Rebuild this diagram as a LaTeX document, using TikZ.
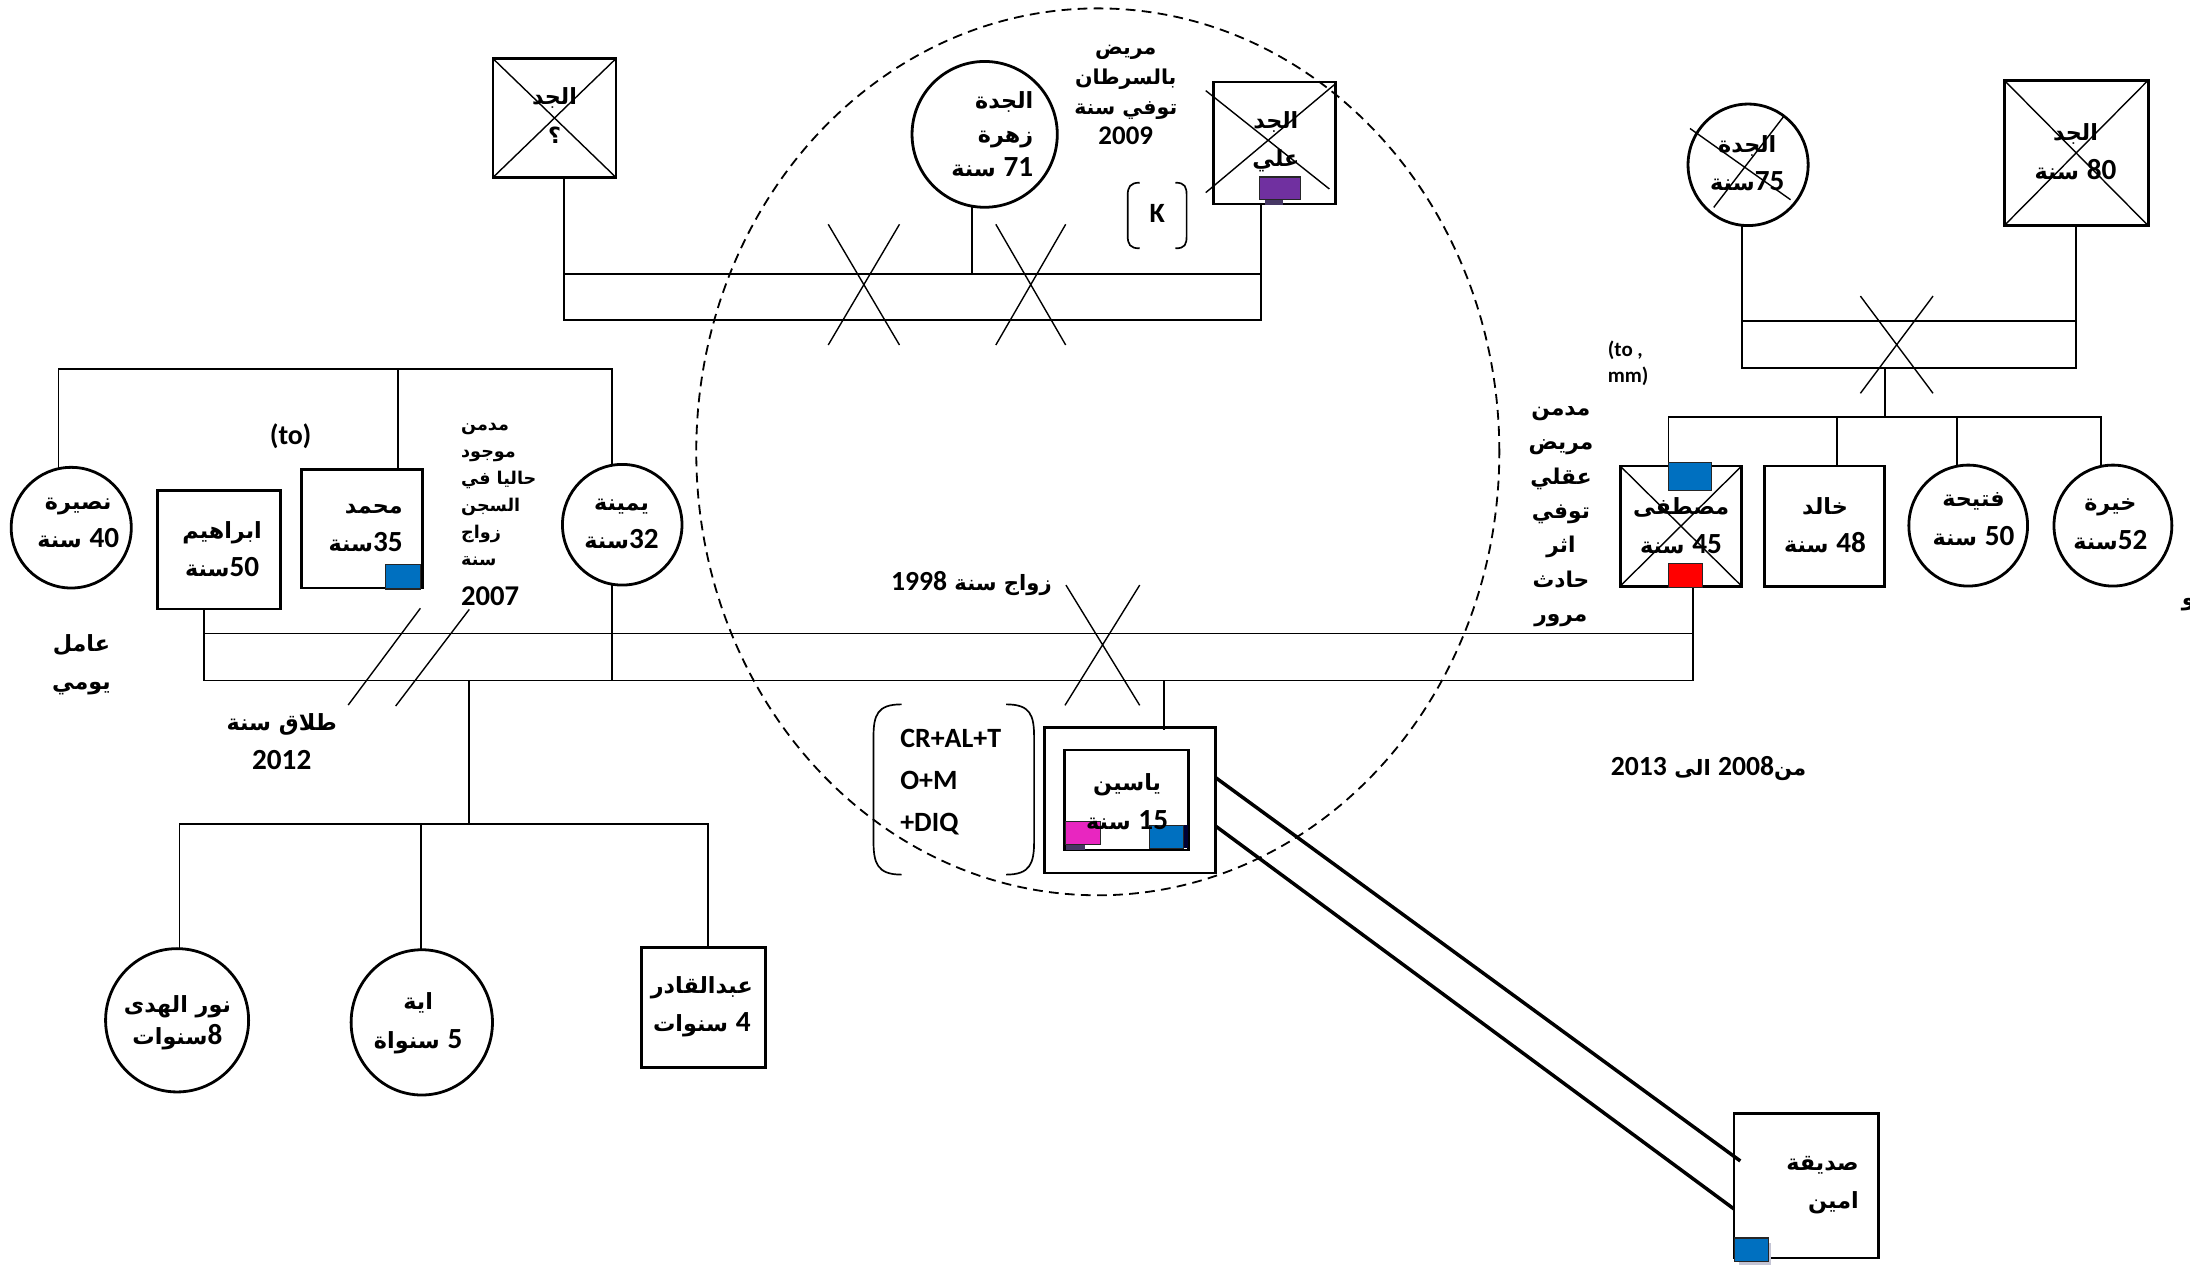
\documentclass[tikz,border=0pt]{standalone}
\usepackage{fontspec}
\setmainfont{Carlito}
\newfontfamily\numf{Carlito}[Scale=1.1]
\newfontfamily\arf{DejaVu Sans}[Script=Arabic, Scale=0.84]
\usetikzlibrary{shapes.geometric}
\TeXXeTstate=1
\newcommand\RR[1]{\beginR#1\endR}
\newcommand\nb[1]{{\numf\bfseries #1}}
\tikzset{
  ln/.style={line width=1.2pt},
  xl/.style={line width=1pt},
  thk/.style={line width=2.5pt},
  box/.style={draw, line width=2pt, rectangle, inner sep=0pt, outer sep=0pt},
  circ/.style={draw, line width=2pt, ellipse, inner sep=0pt, outer sep=0pt},
  mk/.style={draw=black!85, line width=0.8pt},
  txt/.style={inner sep=0pt, align=center, font=\bfseries\arf\fontsize{19}{27.5}\selectfont},
  lat/.style={inner sep=0pt, font=\bfseries\rmfamily\fontsize{20}{30}\selectfont},
}
\definecolor{mblue}{RGB}{0,112,192}
\definecolor{mpurple}{RGB}{112,48,160}
\definecolor{mpink}{RGB}{232,38,192}
\definecolor{mred}{RGB}{255,0,0}
\definecolor{dpurple}{RGB}{70,55,100}
\begin{document}
\begin{tikzpicture}[x=1pt,y=-1pt]
\fill[white] (0,0) rectangle (1568,908);
\useasboundingbox (0,0) rectangle (1568,908);

% focus dashed ellipse
\node[draw, ellipse, inner sep=0pt, line width=1.3pt, dash pattern=on 7pt off 4.5pt,
      minimum width=575pt, minimum height=635pt] (focus) at (786,323.5) {};

% ---------- persons ----------
\node[box, minimum width=88pt, minimum height=85pt] (gfA) at (397,84.5) {};
\node[circ, minimum width=104pt, minimum height=104.4pt] (zahra) at (705,96.2) {};
\node[box, minimum width=87pt, minimum height=87.3pt] (ali) at (912.5,102.35) {};
\node[circ, minimum width=86pt, minimum height=87pt] (jadda) at (1251.6,118) {};
\node[box, minimum width=103pt, minimum height=104pt] (jadd) at (1486.5,109.5) {};
\node[circ, minimum width=86pt, minimum height=86.4pt] (nasira) at (51,377.8) {};
\node[box, minimum width=88pt, minimum height=85pt] (ibrahim) at (157,393.5) {};
\node[box, minimum width=87pt, minimum height=85pt] (mohamed) at (259.15,378.5) {};
\node[circ, minimum width=85.6pt, minimum height=86.4pt] (yamina) at (445.5,375.7) {};
\node[box, minimum width=87pt, minimum height=86pt] (mostafa) at (1203.5,376.65) {};
\node[box, minimum width=86pt, minimum height=86pt] (khaled) at (1306.45,376.65) {};
\node[circ, minimum width=85pt, minimum height=86.6pt] (fatiha) at (1409.2,376.3) {};
\node[circ, minimum width=84.4pt, minimum height=86.6pt] (khaira) at (1512.8,376.3) {};
\node[box, minimum width=122pt, minimum height=104pt] (yassinO) at (809,573) {};
\node[box, minimum width=88.8pt, minimum height=71.6pt] (yassinI) at (806.8,572.8) {};
\node[circ, minimum width=102.4pt, minimum height=102.6pt] (nour) at (126.8,730.5) {};
\node[circ, minimum width=101.2pt, minimum height=104pt] (aya) at (302,732) {};
\node[box, minimum width=88.5pt, minimum height=85.7pt] (abdel) at (503.75,721.35) {};
\node[box, minimum width=103.5pt, minimum height=103.7pt] (amin) at (1293.25,848.85) {};

% crosses (deceased)
\draw[xl] (gfA.north west) -- (gfA.south east) (gfA.north east) -- (gfA.south west);
\draw[xl] (jadd.north west) -- (jadd.south east) (jadd.north east) -- (jadd.south west);
\draw[xl] (mostafa.north west) -- (mostafa.south east) (mostafa.north east) -- (mostafa.south west);
\draw[xl] (863.3,64.9) -- (951.8,135.3) (956,60.1) -- (863.3,137.9);
\draw[xl] (1210,92) -- (1282,143) (1277,83.5) -- (1227,148.5);

% ---------- connectors ----------
% paternal grandparents
\draw[ln] ([xshift=7pt]gfA.south) -- (404,229) -- (903,229) -- ([xshift=-9.5pt]ali.south);
\draw[ln] (404,196) -- (903,196);
\draw[ln] ([xshift=-9pt]zahra.south) -- (696,196);
\draw[xl] (593,160.6) -- (644,247) (644,160.6) -- (593,247);
\draw[xl] (713,160.6) -- (763,247) (763,160.6) -- (713,247);
% maternal grandparents
\draw[ln] ([xshift=-4.6pt]jadda.south) -- (1247,263.7) -- (1486.5,263.7) -- (jadd.south);
\draw[ln] (1247,229.8) -- (1486.5,229.8);
\draw[xl] (1332,212) -- (1384,281.6) (1384,212) -- (1332,281.6);
\draw[ln] (1349.7,263.7) -- (1349.7,298.8);
\draw[ln] ([xshift=-8.9pt]mostafa.north) -- (1194.6,298.8) -- (1504.3,298.8) -- (1504.3,334);
\draw[ln] ([xshift=8.85pt]khaled.north) -- (1315.3,298.8);
\draw[ln] (1401,333.8) -- (1401,298.8);
% father's siblings
\draw[ln] (42,335.6) -- (42,264) -- (438,264) -- (438,333.2);
\draw[ln] ([xshift=25.85pt]mohamed.north) -- (285,264);
% parents' marriage
\draw[ln] ([xshift=-11pt]ibrahim.south) -- (146,487.3) -- (1212,487.3) -- ([xshift=8.5pt]mostafa.south);
\draw[ln] (146,453.5) -- (1212,453.5);
\draw[ln] ([xshift=-7.5pt]yamina.south) -- (438,487.3);
\draw[xl] (301,435.5) -- (249.3,504.8) (336,436.3) -- (283.3,505.5);
\draw[xl] (763.2,418.9) -- (816,505) (816,418.9) -- (762.5,505);
% children
\draw[ln] (336,487.3) -- (336,590.2);
\draw[ln] ([xshift=1.8pt]nour.north) -- (128.6,590.2) -- (507,590.2) -- ([xshift=3.25pt]abdel.north);
\draw[ln] (301.4,590.2) -- ([xshift=-0.6pt]aya.north);
\draw[ln] (833.6,487.3) -- ([xshift=24.6pt,yshift=-2pt]yassinO.north);
% Yassin - Amin
\draw[thk] ([yshift=16.5pt]yassinO.east) -- ([xshift=4.5pt,yshift=17.65pt]amin.west);
\draw[thk] ([yshift=-18.2pt]yassinO.east) -- ([yshift=-16.75pt]amin.west);

% brackets
\draw[ln] (645.5,504.3) .. controls (628,504.3) and (625.4,512) .. (625.4,528) -- (625.4,602) .. controls (625.4,618) and (628,626.2) .. (645.5,626.2);
\draw[ln] (720.3,504.3) .. controls (737.8,504.3) and (740.4,512) .. (740.4,528) -- (740.4,602) .. controls (740.4,618) and (737.8,626.2) .. (720.3,626.2);
\draw[ln] (816,130.8) .. controls (809,130.8) and (807.4,134) .. (807.4,140) -- (807.4,168.6) .. controls (807.4,175) and (809,177.8) .. (816,177.8);
\draw[ln] (841.6,130.8) .. controls (848.6,130.8) and (849.6,134) .. (849.6,140) -- (849.6,168.6) .. controls (849.6,175) and (848.6,177.8) .. (841.6,177.8);

% ---------- markers ----------
\draw[mk, fill=mblue] (276,404) rectangle (301,421.7);
\fill[dpurple] (905.5,143) rectangle (918.3,146.5);
\draw[mk, fill=mpurple] (902,126.7) rectangle (931,143);
\draw[mk, fill=mblue] (1194.6,331) rectangle (1225.7,351.3);
\draw[mk, fill=mred] (1194.6,403.3) rectangle (1219,420.5);
\fill[dpurple] (763,604.8) rectangle (777,608.6);
\draw[mk, fill=mpink] (763,588) rectangle (788,604.8);
\fill[black!80!blue] (846,591) rectangle (850.9,607.3);
\draw[mk, fill=mblue] (822.7,591) rectangle (847.5,607.3);
\fill[blue!15!gray!40] (1245,890) rectangle (1268,906);
\draw[mk, fill=mblue] (1242,886.4) rectangle (1266,903.3);

% ---------- texts ----------
\node[txt] (t-gfa) at (397,82.6) {\RR{الجد}\\؟};
\node[txt, align=right, anchor=east, font=\bfseries\arf\fontsize{19}{24.5}\selectfont] (t-zahra) at (740,96) {\RR{الجدة}\\\RR{زهرة}\\\RR{\nb{71} سنة}};
\node[txt] (t-ali) at (913.5,101.5) {\RR{الجد}\\\RR{علي}};
\node[txt, font=\bfseries\arf\fontsize{17.5}{21.5}\selectfont] (t-cancer) at (806,68) {\RR{مريض}\\\RR{بالسرطان}\\\RR{توفي سنة}\\\nb{2009}};
\node[lat] (t-k) at (828.5,153) {K};
\node[txt] (t-jadda) at (1251,116.7) {\RR{الجدة}\\\RR{\nb{75}سنة}};
\node[txt] (t-jadd) at (1486,108.6) {\RR{الجد}\\\RR{\nb{80} سنة}};
\node[txt] (t-nasira) at (56,374.5) {\RR{نصيرة}\\\RR{\nb{40} سنة}};
\node[txt] (t-ibrahim) at (159,393.3) {\RR{ابراهيم}\\\RR{\nb{50}سنة}};
\node[txt, align=right, anchor=east] (t-mohamed) at (288.5,378.2) {\RR{محمد}\\\RR{\nb{35}سنة}};
\node[txt] (t-yamina) at (445,375.3) {\RR{يمينة}\\\RR{\nb{32}سنة}};
\node[lat] (t-to) at (208,312) {(to)};
\node[txt, align=left, anchor=west, font=\bfseries\arf\fontsize{15}{19.3}\selectfont] (t-note1) at (330,353.8) {\RR{مدمن}\\\RR{موجود}\\\RR{حاليا في}\\\RR{السجن}\\\RR{زواج}\\\RR{سنة}};
\node[lat, anchor=west, font=\bfseries\rmfamily\fontsize{20.5}{30}\selectfont] (t-2007) at (330,427.2) {2007};
\node[txt] (t-work) at (58.3,476.1) {\RR{عامل}\\\RR{يومي}};
\node[txt] (t-div) at (201.7,531) {\RR{طلاق سنة}\\\nb{2012}};
\node[txt, font=\bfseries\arf\fontsize{18}{24}\selectfont] (t-mar) at (695.5,418) {\RR{زواج سنة \nb{1998}}};
\node[lat, align=left, anchor=west] (t-cr) at (644.4,559.7) {CR+AL+T\\O+M\\+DIQ};
\node[txt] (t-yassin) at (807,574) {\RR{ياسين}\\\RR{\nb{15} سنة}};
\node[lat, align=left, anchor=west, font=\bfseries\rmfamily\fontsize{15}{19}\selectfont] (t-tomm) at (1151,260) {(to ,\\mm)};
\node[txt, font=\bfseries\arf\fontsize{18.5}{24.6}\selectfont] (t-note2) at (1117.6,370) {\RR{مدمن}\\\RR{مريض}\\\RR{عقلي}\\\RR{توفي}\\\RR{اثر}\\\RR{حادث}\\\RR{مرور}};
\node[txt] (t-mostafa) at (1203.6,376.5) {\RR{مصطفى}\\\RR{\nb{45} سنة}};
\node[txt] (t-khaled) at (1306.7,376) {\RR{خالد}\\\RR{\nb{48} سنة}};
\node[txt] (t-fatiha) at (1413,371.7) {\RR{فتيحة}\\\RR{\nb{50} سنة}};
\node[txt] (t-khaira) at (1511,375.3) {\RR{خيرة}\\\RR{\nb{52}سنة}};
\node[txt, font=\bfseries\arf\fontsize{18}{24}\selectfont] (t-period) at (1223.3,550.1) {\RR{من\kern0pt\nb{2008} الى \nb{2013}}};
\node[txt, font=\bfseries\arf\fontsize{19}{23}\selectfont] (t-nour) at (127,732) {\RR{نور الهدى}\\\RR{\nb{8}سنوات}};
\node[txt] (t-aya) at (299.4,732.6) {\RR{اية}\\\RR{\nb{5} سنواة}};
\node[txt] (t-abdel) at (502.5,720.7) {\RR{عبدالقادر}\\\RR{\nb{4} سنوات}};
\node[txt, align=right, anchor=east] (t-amin) at (1331,848.7) {\RR{صديقة}\\\RR{امين}};
\node[txt, anchor=west] (t-cut) at (1562,433) {و};
\end{tikzpicture}
\end{document}
